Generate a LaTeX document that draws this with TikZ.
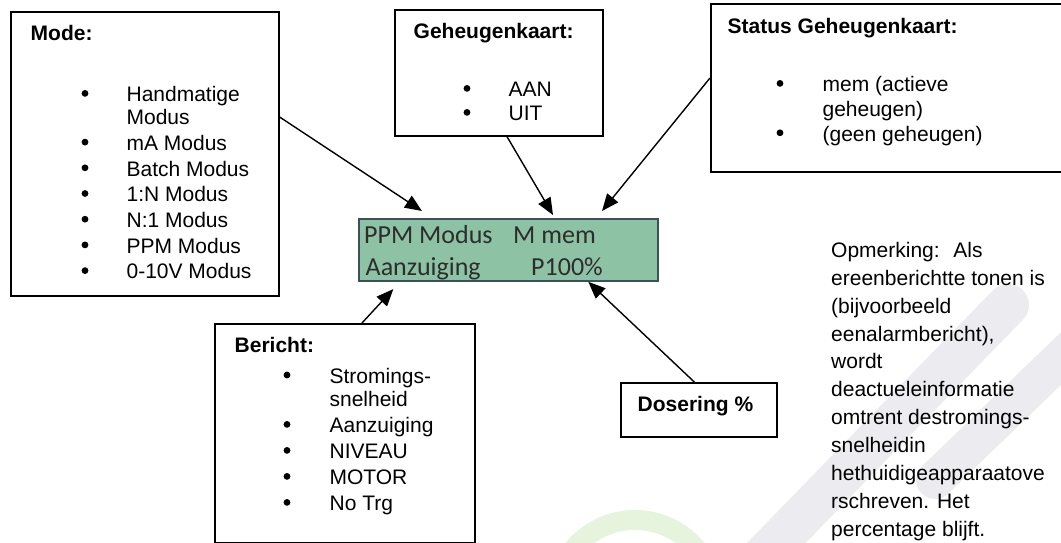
\documentclass[tikz,border=0pt]{standalone}
\usepackage{fontspec}
\setmainfont{Liberation Sans}
\newfontfamily\lcdfont{Carlito}
\usetikzlibrary{arrows.meta,calc}
\definecolor{lcdfill}{RGB}{141,194,164}
\definecolor{lcdborder}{RGB}{62,80,95}
\definecolor{lcdtext}{RGB}{45,45,45}
\definecolor{wmgrey}{RGB}{236,236,240}
\definecolor{wmgreen}{RGB}{230,244,222}
\newcommand\lst[1]{\begin{tabular}[t]{@{}l@{}}#1\end{tabular}}
\begin{document}
\begin{tikzpicture}[x=1pt,y=-1pt,
  box/.style={draw=black, line width=1.6pt, anchor=north west, inner sep=0pt, fill=none},
  txt/.style={anchor=base west, inner sep=0pt},
  ttl/.style={anchor=base west, inner sep=0pt, font=\fontsize{21}{25}\selectfont\bfseries},
  arr/.style={line width=1.4pt, -{Triangle[length=17pt,width=14pt]}},
  bdot/.style={fill=black},
  lcdtxt/.style={anchor=base west, inner sep=0pt, text=lcdtext, font=\lcdfont\fontsize{26}{30}\selectfont}]
\useasboundingbox (0,0) rectangle (1061,543);
\clip (0,0) rectangle (1061,543);
% watermark
\draw[line width=42pt, wmgrey, line cap=round] (745,575) -- (1008,305);
\draw[line width=38pt, wmgrey, line cap=round] (935,480) -- (1075,345);
\draw[line width=20pt, wmgreen] (635,600) ++(200:80) arc[start angle=200, end angle=330, radius=80];
% boxes
\node[box, minimum width=268pt, minimum height=284pt] (mode) at (10,11) {};
\node[box, minimum width=208pt, minimum height=126pt] (geh) at (394,9) {};
\node[box, minimum width=354pt, minimum height=168pt] (stat) at (710,3) {};
\node[box, minimum width=260pt, minimum height=219pt] (ber) at (214,323) {};
\node[box, minimum width=156pt, minimum height=54pt] (dos) at (620,382) {};
\node[draw=lcdborder, fill=lcdfill, line width=1.8pt, anchor=north west, inner sep=0pt,
      minimum width=299pt, minimum height=61.7pt] (lcd) at (358,218.3) {};
% titles
\node[ttl] (modet) at (30.5,40.7) {Mode:};
\node[ttl] (geht) at (413.5,39) {Geheugenkaart:};
\node[ttl] (statt) at (727.5,33.3) {Status Geheugenkaart:};
\node[ttl] (bert) at (234.5,352.7) {Bericht:};
\node[ttl] (dost) at (637.5,411.7) {Dosering \%};
% bullets
\foreach \yy in {93.4,142.1,167.8,193.5,219.2,244.9,270.6} \fill[bdot] (85,\yy) circle (3.4pt);
\foreach \yy in {88.4,112.4} \fill[bdot] (467,\yy) circle (3.4pt);
\foreach \yy in {83.4,132.8} \fill[bdot] (780,\yy) circle (3.4pt);
\foreach \yy in {375,424.4,450.4,476.4,502.4} \fill[bdot] (287,\yy) circle (3.4pt);
% lists
\node[txt, font=\fontsize{21}{25.7}\selectfont] (model) at (126.4,101.7) {\lst{%
Handmatige\\[-2.7pt]
Modus\\
mA Modus\\
Batch Modus\\
1:N Modus\\
N:1 Modus\\
PPM Modus\\
0-10V Modus}};
\node[txt, font=\fontsize{21}{24}\selectfont] (gehl) at (508.4,96.7) {\lst{%
AAN\\
UIT}};
\node[txt, font=\fontsize{21}{24.7}\selectfont] (statl) at (822.4,91.7) {\lst{%
mem (actieve\\
geheugen)\\
(geen geheugen)}};
\node[txt, font=\fontsize{21}{26}\selectfont] (berl) at (329.4,383.3) {\lst{%
Stromings-\\[-2.6pt]
snelheid\\
Aanzuiging\\
NIVEAU\\
MOTOR\\
No Trg}};
% note
\node[txt, font=\fontsize{21}{27.9}\selectfont] (note) at (831,257.3) {\begin{tabular}[t]{@{}l@{}}
Opmerking:~ Als\\
ereenberichtte tonen is\\
(bijvoorbeeld\\
eenalarmbericht),\\
wordt\\
deactueleinformatie\\
omtrent destromings-\\
snelheidin\\
hethuidigeapparaatove\\
rschreven. Het\\
percentage blijft.
\end{tabular}};
% LCD text
\node[lcdtxt] (l1a) at (364,243.3) {PPM Modus};
\node[lcdtxt] (l1b) at (513,243.3) {M mem};
\node[lcdtxt] (l2a) at (365.5,275) {Aanzuiging};
\node[lcdtxt] (l2b) at (531,275) {P100\%};
% arrows
\draw[arr] ($(mode.north east)+(0,106)$) -- ($(lcd.north west)+(64,-7.3)$);
\draw[arr] ($(geh.south west)+(113,0)$) -- ($(lcd.north west)+(195,-3.3)$);
\draw[arr] ($(stat.north west)+(0,75)$) -- ($(lcd.north west)+(244,-7.3)$);
\draw[arr] ($(ber.north west)+(148,0)$) -- ($(lcd.south west)+(35.3,7.3)$);
\draw[arr] ($(dos.north west)+(74.3,0)$) -- ($(lcd.south west)+(230.3,0)$);
\end{tikzpicture}
\end{document}
